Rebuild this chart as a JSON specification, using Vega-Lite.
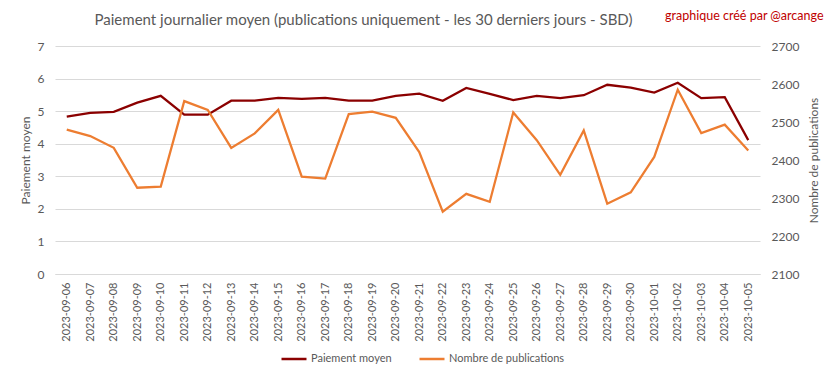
{
  "$schema": "https://vega.github.io/schema/vega-lite/v6.json",
  "autosize": "none",
  "width": 705,
  "height": 228,
  "padding": {"left": 55, "top": 46, "right": 73, "bottom": 105},
  "background": "white",
  "config": {
    "view": {"stroke": null},
    "font": "Lato",
    "axis": {"labelColor": "#595959", "titleColor": "#595959", "labelFont": "Lato", "titleFont": "Lato", "titleFontWeight": "normal", "gridColor": "#d9d9d9", "ticks": false, "domain": false},
    "legend": {"labelFont": "Lato", "labelColor": "#595959"}
  },
  "title": {
    "text": "Paiement journalier moyen (publications uniquement - les 30 derniers jours - SBD)",
    "anchor": "middle",
    "dx": -44,
    "offset": -19,
    "font": "Lato",
    "fontSize": 15,
    "fontWeight": "normal",
    "color": "#595959"
  },
  "data": {
    "values": [
      {"date": "2023-09-06", "paiement": 4.83, "publications": 2480},
      {"date": "2023-09-07", "paiement": 4.95, "publications": 2463},
      {"date": "2023-09-08", "paiement": 4.98, "publications": 2432},
      {"date": "2023-09-09", "paiement": 5.26, "publications": 2327},
      {"date": "2023-09-10", "paiement": 5.47, "publications": 2330},
      {"date": "2023-09-11", "paiement": 4.89, "publications": 2555},
      {"date": "2023-09-12", "paiement": 4.89, "publications": 2532},
      {"date": "2023-09-13", "paiement": 5.32, "publications": 2432},
      {"date": "2023-09-14", "paiement": 5.32, "publications": 2470},
      {"date": "2023-09-15", "paiement": 5.41, "publications": 2532},
      {"date": "2023-09-16", "paiement": 5.38, "publications": 2356},
      {"date": "2023-09-17", "paiement": 5.41, "publications": 2351},
      {"date": "2023-09-18", "paiement": 5.32, "publications": 2521},
      {"date": "2023-09-19", "paiement": 5.32, "publications": 2527},
      {"date": "2023-09-20", "paiement": 5.47, "publications": 2511},
      {"date": "2023-09-21", "paiement": 5.54, "publications": 2421},
      {"date": "2023-09-22", "paiement": 5.32, "publications": 2264},
      {"date": "2023-09-23", "paiement": 5.71, "publications": 2311},
      {"date": "2023-09-24", "paiement": 5.53, "publications": 2290},
      {"date": "2023-09-25", "paiement": 5.34, "publications": 2525},
      {"date": "2023-09-26", "paiement": 5.47, "publications": 2452},
      {"date": "2023-09-27", "paiement": 5.40, "publications": 2361},
      {"date": "2023-09-28", "paiement": 5.49, "publications": 2478},
      {"date": "2023-09-29", "paiement": 5.81, "publications": 2285},
      {"date": "2023-09-30", "paiement": 5.72, "publications": 2315},
      {"date": "2023-10-01", "paiement": 5.57, "publications": 2408},
      {"date": "2023-10-02", "paiement": 5.87, "publications": 2585},
      {"date": "2023-10-03", "paiement": 5.40, "publications": 2471},
      {"date": "2023-10-04", "paiement": 5.43, "publications": 2493},
      {"date": "2023-10-05", "paiement": 4.11, "publications": 2425}
    ]
  },
  "layer": [
    {
      "mark": {"type": "line", "strokeWidth": 2.25},
      "encoding": {
        "x": {
          "field": "date", "type": "ordinal",
          "scale": {"type": "point", "padding": 0.5},
          "axis": {"title": null, "labelAngle": -90, "labelFontSize": 11, "labelPadding": 8, "grid": false, "domain": true, "domainColor": "#d9d9d9"}
        },
        "y": {
          "field": "paiement", "type": "quantitative",
          "scale": {"domain": [0, 7], "nice": false},
          "axis": {"title": "Paiement moyen", "values": [0, 1, 2, 3, 4, 5, 6, 7], "labelFontSize": 12, "titleFontSize": 12, "labelPadding": 11, "titlePadding": 5, "grid": true}
        },
        "color": {
          "datum": "Paiement moyen",
          "scale": {"domain": ["Paiement moyen", "Nombre de publications"], "range": ["#8B0000", "#ED7D31"]},
          "legend": {"title": null, "orient": "none", "legendX": 225, "legendY": 299, "direction": "horizontal", "symbolType": "stroke", "symbolSize": 625, "symbolStrokeWidth": 2.5, "labelFontSize": 11, "labelOffset": 3, "columnPadding": 22}
        }
      }
    },
    {
      "mark": {"type": "line", "strokeWidth": 2.25},
      "encoding": {
        "x": {
          "field": "date", "type": "ordinal",
          "scale": {"type": "point", "padding": 0.5},
          "axis": {"orient": "top", "labels": false, "grid": false, "title": "graphique créé par @arcange", "titleColor": "#C00000", "titleFontSize": 12.5, "titleAnchor": "end", "titleAlign": "right", "titleBaseline": "middle", "titleX": 768, "titleY": -31}
        },
        "y": {
          "field": "publications", "type": "quantitative",
          "scale": {"domain": [2100, 2700], "nice": false},
          "axis": {"orient": "right", "title": "Nombre de publications", "format": "d", "titleAngle": 270, "titleBaseline": "middle", "titleAlign": "center", "titleX": 53, "titleY": 114, "values": [2100, 2200, 2300, 2400, 2500, 2600, 2700], "labelFontSize": 12, "titleFontSize": 12, "labelPadding": 11, "grid": false}
        },
        "color": {"datum": "Nombre de publications"}
      }
    }
  ],
  "resolve": {"scale": {"y": "independent"}, "axis": {"x": "independent", "y": "independent"}}
}
